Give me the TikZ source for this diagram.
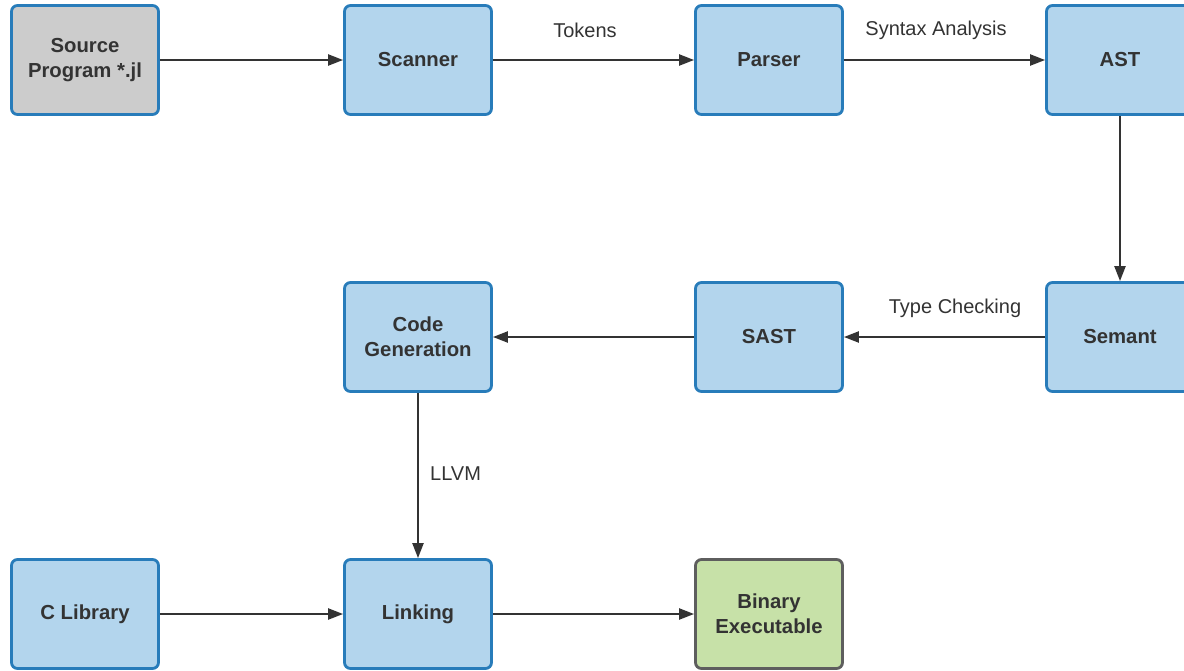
\documentclass[tikz,border=0pt]{standalone}
\usepackage{fontspec}
\setmainfont{Liberation Sans}
\usetikzlibrary{arrows.meta}
\definecolor{bfill}{RGB}{179,213,237}
\definecolor{bdraw}{RGB}{40,124,186}
\definecolor{gfill}{RGB}{204,204,204}
\definecolor{grfill}{RGB}{199,225,168}
\definecolor{grdraw}{RGB}{94,94,94}
\definecolor{txt}{RGB}{51,51,51}
\tikzset{
  box/.style={draw=bdraw, fill=bfill, line width=2.8pt, rounded corners=6pt,
    minimum width=147pt, minimum height=109pt, align=center, text=txt,
    font=\fontsize{20.3}{25}\selectfont\bfseries, inner sep=0pt},
  srcbox/.style={box, fill=gfill},
  outbox/.style={box, fill=grfill, draw=grdraw},
  conn/.style={draw=txt, line width=2.2pt, -{Triangle[length=15pt,width=11pt]}},
  lbl/.style={text=txt, font=\fontsize{20}{24}\selectfont, inner sep=0pt}
}
\begin{document}
\begin{tikzpicture}[x=1pt,y=-1pt]
\useasboundingbox (0,0) rectangle (1184,670);
\clip (0,0) rectangle (1184,670);
\node[srcbox] (src) at (85,60) {Source\\Program *.jl};
\node[box] (scan) at (418,60) {Scanner};
\node[box] (parse) at (769,60) {Parser};
\node[box] (ast) at (1120,60) {AST};
\node[box] (sem) at (1120,337) {Semant};
\node[box] (sast) at (769,337) {SAST};
\node[box] (cg) at (418,337) {Code\\Generation};
\node[box] (link) at (418,614) {Linking};
\node[box] (clib) at (85,614) {C Library};
\node[outbox] (bin) at (769,614) {Binary\\Executable};
\draw[conn] (src) -- (scan);
\draw[conn] (scan) -- (parse);
\draw[conn] (parse) -- (ast);
\draw[conn] (ast) -- (sem);
\draw[conn] (sem) -- (sast);
\draw[conn] (sast) -- (cg);
\draw[conn] (cg) -- (link);
\draw[conn] (clib) -- (link);
\draw[conn] (link) -- (bin);
\node[lbl] (ltok) at (585,30) {Tokens};
\node[lbl] (lsyn) at (936,30) {Syntax Analysis};
\node[lbl] (ltype) at (955,308) {Type Checking};
\node[lbl, anchor=west] (lllvm) at (430,474) {LLVM};
\end{tikzpicture}
\end{document}
